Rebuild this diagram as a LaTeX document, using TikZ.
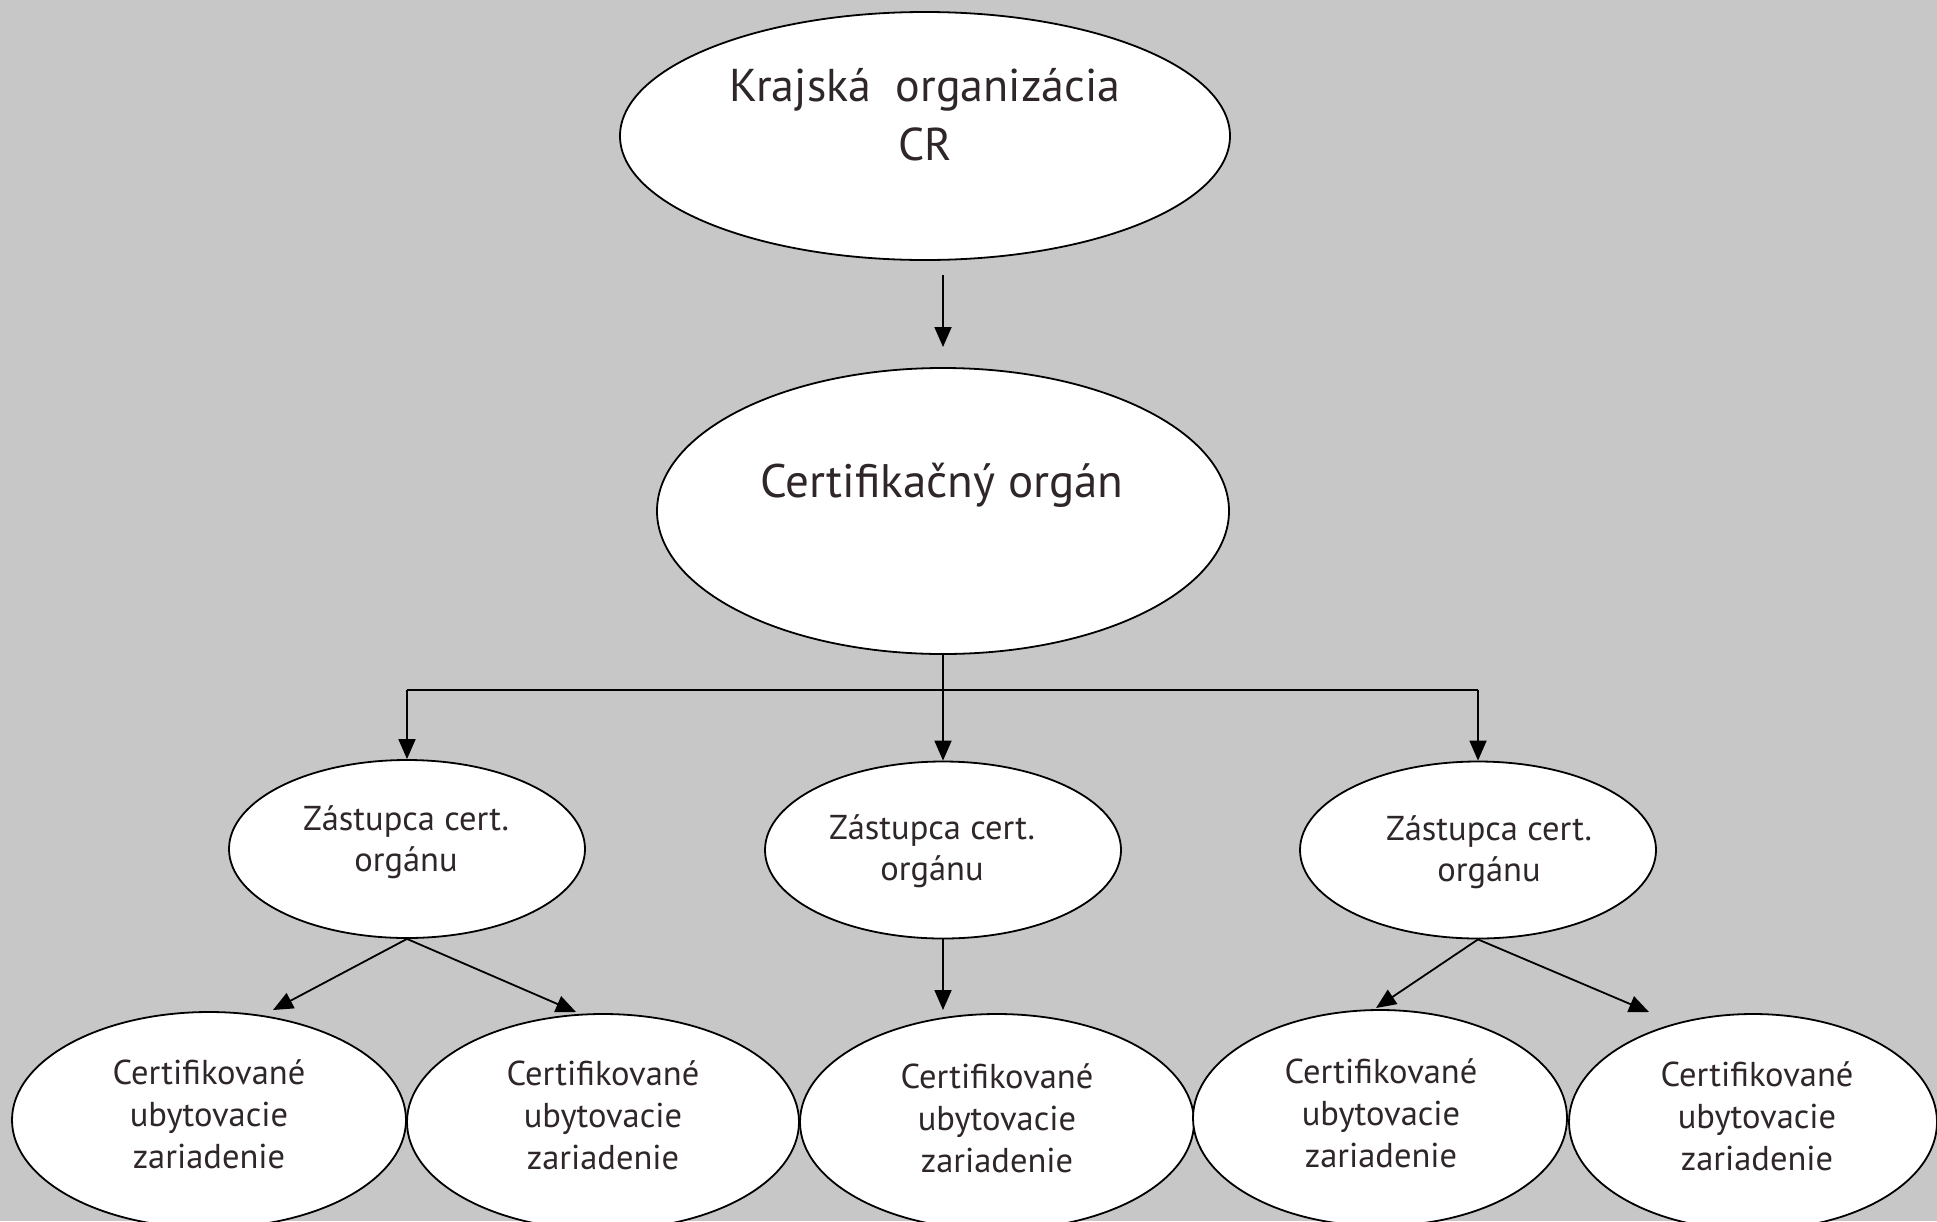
\documentclass[tikz,border=0pt]{standalone}
\usepackage{fontspec}
\setmainfont{PT Sans}
\usetikzlibrary{arrows.meta,shapes.geometric}
\definecolor{bg}{HTML}{C7C7C7}
\definecolor{ink}{HTML}{2E2628}
\begin{document}
\begin{tikzpicture}[x=1pt,y=-1pt,
  oval/.style={ellipse, draw=black, line width=1.8pt, fill=white, inner sep=0pt},
  lbl/.style={align=center, text=ink, inner sep=0pt},
  big/.style={lbl, font=\fontsize{46}{59}\selectfont},
  bigb/.style={lbl, font=\fontsize{47}{59}\selectfont},
  small/.style={lbl, font=\fontsize{34.5}{41}\selectfont},
  tiny/.style={lbl, font=\fontsize{34.5}{42}\selectfont},
  conn/.style={line width=1.8pt, -{Triangle[length=20pt,width=17pt]}},
  plain/.style={line width=1.8pt}]
\fill[bg] (0,0) rectangle (1937,1221);
\useasboundingbox (0,0) rectangle (1937,1221);
\clip (0,0) rectangle (1937,1221);
% top level
\node[oval, minimum width=610pt, minimum height=248pt] (kraj) at (925,136) {};
\node[big] (krajt) at (925,115) {Krajská~~organizácia\\CR};
% second level
\node[oval, minimum width=572pt, minimum height=286pt] (cert) at (943,511) {};
\node[bigb] (certt) at (942,485) {Certifikačný orgán};
% third level
\node[oval, minimum width=356pt, minimum height=178pt] (z1) at (407,849) {};
\node[oval, minimum width=356pt, minimum height=177pt] (z2) at (943,850) {};
\node[oval, minimum width=356pt, minimum height=177pt] (z3) at (1478,850) {};
\node[small] (z1t) at (406,842) {Zástupca cert.\\orgánu};
\node[small] (z2t) at (932,851) {Zástupca cert.\\orgánu};
\node[small] (z3t) at (1489,852) {Zástupca cert.\\orgánu};
% bottom level
\node[oval, minimum width=394pt, minimum height=216pt] (e1) at (209,1120) {};
\node[oval, minimum width=392pt, minimum height=216pt] (e2) at (603,1122) {};
\node[oval, minimum width=394pt, minimum height=216pt] (e3) at (997,1122) {};
\node[oval, minimum width=374pt, minimum height=216pt] (e4) at (1380,1118) {};
\node[oval, minimum width=368pt, minimum height=216pt] (e5) at (1753,1122) {};
\node[tiny] (e1t) at (209,1114) {Certifikované\\ubytovacie\\zariadenie};
\node[tiny] (e2t) at (603,1115) {Certifikované\\ubytovacie\\zariadenie};
\node[tiny] (e3t) at (997,1118) {Certifikované\\ubytovacie\\zariadenie};
\node[tiny] (e4t) at (1381,1113) {Certifikované\\ubytovacie\\zariadenie};
\node[tiny] (e5t) at (1757,1116) {Certifikované\\ubytovacie\\zariadenie};
% connectors
\coordinate (a1) at (943,275);
\coordinate (a2) at (943,347);
\draw[conn] (a1) -- (a2);
\coordinate (hl) at (407,690);
\coordinate (hr) at (1478,690);
\draw[conn] (cert.south) -- (z2.north);
\draw[plain] (hl) -- (hr);
\draw[conn] (hl) -- (z1.north);
\draw[conn] (hr) -- (z3.north);
\coordinate (t11) at (273,1010);
\coordinate (t12) at (576,1012);
\coordinate (t2) at (943,1010);
\coordinate (t31) at (1376,1008);
\coordinate (t32) at (1649,1012);
\draw[conn] (z1.south) -- (t11);
\draw[conn] (z1.south) -- (t12);
\draw[conn] (z2.south) -- (t2);
\draw[conn] (z3.south) -- (t31);
\draw[conn] (z3.south) -- (t32);
\end{tikzpicture}
\end{document}
